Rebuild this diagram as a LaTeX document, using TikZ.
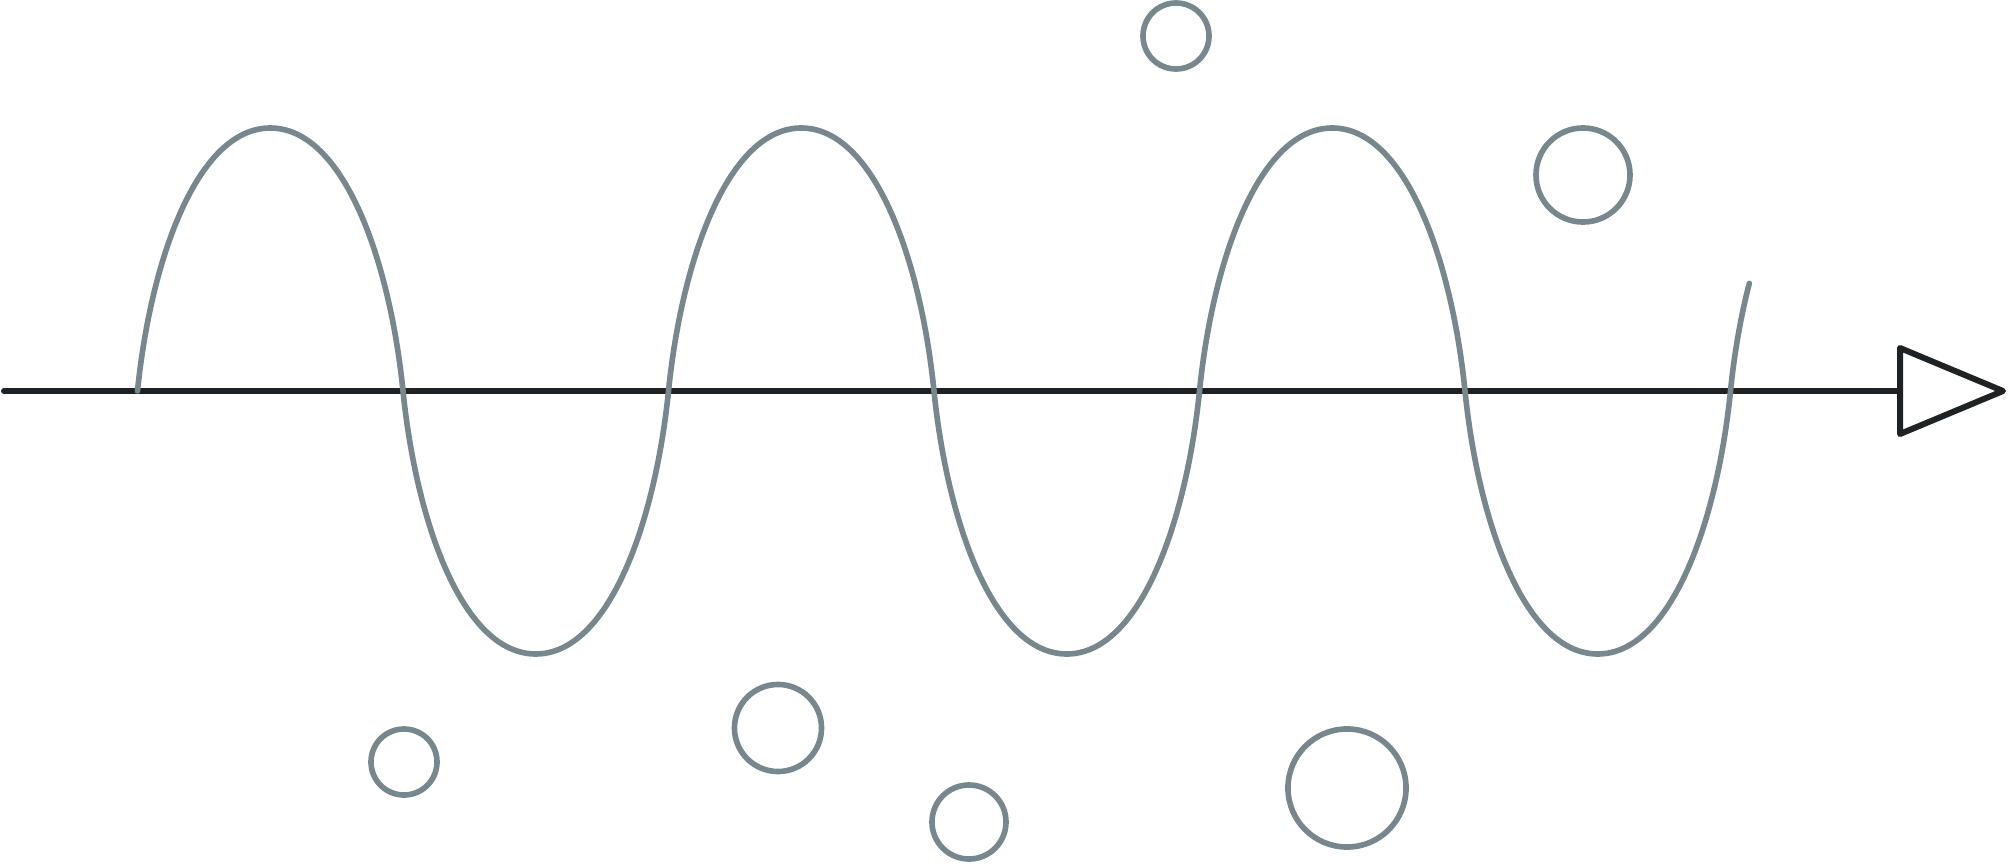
\documentclass[tikz,border=0pt]{standalone}
\usepackage{xcolor}
\usepackage{tikz}
\usetikzlibrary{calc}
\definecolor{wavegray}{RGB}{118, 136, 141}
\definecolor{axisdark}{RGB}{30, 34, 37}

\begin{document}
\begin{tikzpicture}[x=0.01cm, y=0.01cm,
    axisline/.style={draw=axisdark, line width=1.7pt, line cap=round, line join=round},
    wave/.style={draw=wavegray, line width=1.6pt, line cap=round},
    bubble/.style={circle, draw=wavegray, line width=1.6pt, inner sep=0pt}
]
    \useasboundingbox (0,-472) rectangle (2008,391);

    % axis with open head
    \coordinate (start) at (4,0);
    \coordinate (base) at (1900,0);
    \coordinate (tip) at (2003,0);
    \draw[axisline] (start) -- (base);
    \draw[axisline] ($(base)+(0,43)$) -- (tip) -- ($(base)+(0,-43)$) -- cycle;

    % wave
    \draw[wave] (137.5,0)
        .. controls +(13.3,131.5) and +(-73,0) .. ++(132.75,263) .. controls +(73,0) and +(-13.3,131.5) .. ++(132.75,-263)
        .. controls +(13.3,-131.5) and +(-73,0) .. ++(132.75,-263) .. controls +(73,0) and +(-13.3,-131.5) .. ++(132.75,263)
        .. controls +(13.3,131.5) and +(-73,0) .. ++(132.75,263) .. controls +(73,0) and +(-13.3,131.5) .. ++(132.75,-263)
        .. controls +(13.3,-131.5) and +(-73,0) .. ++(132.75,-263) .. controls +(73,0) and +(-13.3,-131.5) .. ++(132.75,263)
        .. controls +(13.3,131.5) and +(-73,0) .. ++(132.75,263) .. controls +(73,0) and +(-13.3,131.5) .. ++(132.75,-263)
        .. controls +(13.3,-131.5) and +(-73,0) .. ++(132.75,-263) .. controls +(73,0) and +(-13.3,-131.5) .. ++(132.75,263)
        .. controls +(3.7,36.8) and +(-8.8,-34) .. ++(18.8,107.6);

    % bubbles
    \node[bubble, minimum size=0.66cm] (b1) at (1176,355) {};
    \node[bubble, minimum size=0.94cm] (b2) at (1583,216) {};
    \node[bubble, minimum size=0.66cm] (b3) at (404,-371) {};
    \node[bubble, minimum size=0.87cm] (b4) at (778,-337) {};
    \node[bubble, minimum size=0.74cm] (b5) at (969,-431) {};
    \node[bubble, minimum size=1.18cm] (b6) at (1347,-397) {};
\end{tikzpicture}
\end{document}
